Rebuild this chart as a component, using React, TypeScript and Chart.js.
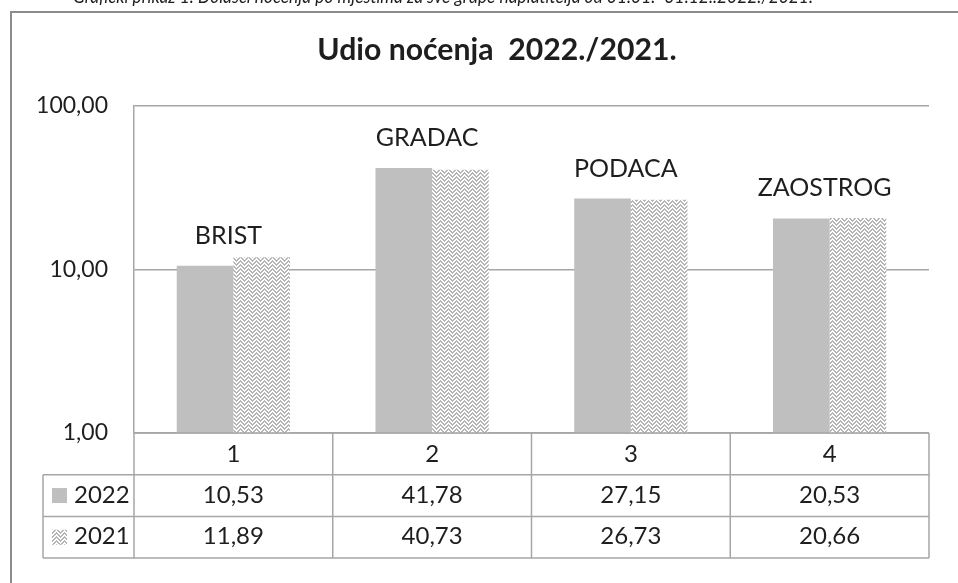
import React, { useEffect, useRef } from "react";
import { Chart, registerables } from "chart.js";

Chart.register(...registerables);

const categories = ["1", "2", "3", "4"];
const placeNames = ["BRIST", "GRADAC", "PODACA", "ZAOSTROG"];
const seriesLabels = ["2022", "2021"];
const values2022 = [10.53, 41.78, 27.15, 20.53];
const values2021 = [11.89, 40.73, 26.73, 20.66];
const yTicks = [1, 10, 100];
const titleText = "Udio noćenja  2022./2021.";
const captionText =
  "Grafički prikaz 1. Dolasci noćenja po mjestima za sve grupe naplatitelja od 01.01.- 31.12..2022./2021.";

const FONT = "Lato, 'Open Sans', sans-serif";
const TEXT = "#1e1e1e";
const LINE = "#a6a6a6";
const GRAY = "#BFBFBF";

const fmt = (v: number) => v.toFixed(2).replace(".", ",");

function makePattern(ctx: CanvasRenderingContext2D): CanvasPattern | string {
  const c = document.createElement("canvas");
  c.width = 8;
  c.height = 8;
  const g = c.getContext("2d");
  if (!g) return "#dddddd";
  g.fillStyle = "#ffffff";
  g.fillRect(0, 0, 8, 8);
  g.fillStyle = "#b4b4b4";
  const zz = [0, 1, 2, 3, 4, 3, 2, 1];
  for (let x = 0; x < 8; x++) {
    for (const k of [0, 4]) {
      const y = (zz[x] + k) % 8;
      g.fillRect(x, y, 1, 1);
      g.fillRect(x, (y + 1) % 8, 1, 1);
    }
  }
  return ctx.createPattern(c, "repeat") || "#dddddd";
}

export default function App() {
  const ref = useRef<HTMLCanvasElement | null>(null);

  useEffect(() => {
    const canvas = ref.current;
    if (!canvas) return;
    const ctx0 = canvas.getContext("2d")!;
    const pattern = makePattern(ctx0);

    const decor = {
      id: "decor",
      afterDraw(chart: any) {
        const ctx: CanvasRenderingContext2D = chart.ctx;
        const area = chart.chartArea;
        const xs = chart.scales.x;
        ctx.save();

        // outer frame
        ctx.strokeStyle = "#8c8c8c";
        ctx.lineWidth = 2;
        ctx.beginPath();
        ctx.moveTo(11, 600);
        ctx.lineTo(11, 12);
        ctx.lineTo(980, 12);
        ctx.stroke();

        // caption (cut off at top)
        ctx.fillStyle = TEXT;
        ctx.font = `italic 20px ${FONT}`;
        ctx.textAlign = "left";
        ctx.textBaseline = "alphabetic";
        const cw = ctx.measureText(captionText).width;
        ctx.save();
        ctx.translate(73, 3);
        ctx.scale(740 / cw, 1);
        ctx.fillText(captionText, 0, 0);
        ctx.restore();

        // title
        ctx.font = `bold 28px ${FONT}`;
        const tw = ctx.measureText(titleText).width;
        const ts = (28 * 359) / tw;
        ctx.font = `bold ${ts.toFixed(1)}px ${FONT}`;
        ctx.textAlign = "center";
        ctx.fillText(titleText, 497, 60);

        // place labels above bars
        ctx.font = `25px ${FONT}`;
        const meta0 = chart.getDatasetMeta(0);
        placeNames.forEach((name, i) => {
          const cx = xs.getPixelForValue(i) - 5;
          const top = meta0.data[i].y;
          ctx.fillText(name, cx, top - 22);
        });

        // data table
        const left = area.left;
        const right = area.right;
        const colW = (right - left) / categories.length;
        const rowH = 41.7;
        const t0 = area.bottom;
        const legendLeft = 43;
        ctx.strokeStyle = LINE;
        ctx.lineWidth = 1.5;
        ctx.beginPath();
        ctx.moveTo(left, t0);
        ctx.lineTo(right, t0);
        for (let r = 1; r <= 3; r++) {
          ctx.moveTo(legendLeft, t0 + r * rowH);
          ctx.lineTo(right, t0 + r * rowH);
        }
        for (let c = 0; c <= categories.length; c++) {
          ctx.moveTo(left + c * colW, t0);
          ctx.lineTo(left + c * colW, t0 + 3 * rowH);
        }
        ctx.moveTo(legendLeft, t0 + rowH);
        ctx.lineTo(legendLeft, t0 + 3 * rowH);
        ctx.stroke();

        ctx.fillStyle = TEXT;
        ctx.font = `24px ${FONT}`;
        ctx.textAlign = "center";
        categories.forEach((c, i) => {
          ctx.fillText(c, left + (i + 0.5) * colW, t0 + 29);
        });
        const rows = [values2022, values2021];
        rows.forEach((vals, r) => {
          const base = t0 + (r + 1) * rowH + 28;
          vals.forEach((v, i) => {
            ctx.fillText(fmt(v), left + (i + 0.5) * colW, base);
          });
        });
        // legend keys
        ctx.textAlign = "left";
        seriesLabels.forEach((lab, r) => {
          const mid = t0 + (r + 1.5) * rowH;
          ctx.fillStyle = r === 0 ? GRAY : (pattern as any);
          ctx.fillRect(52, mid - 7.5, 15, 15);
          ctx.fillStyle = TEXT;
          ctx.fillText(lab, 74, t0 + (r + 1) * rowH + 28);
        });

        ctx.restore();
      },
    };

    const chart = new Chart(canvas, {
      type: "bar",
      data: {
        labels: categories,
        datasets: [
          {
            label: seriesLabels[0],
            data: values2022,
            backgroundColor: GRAY,
            borderWidth: 0,
            categoryPercentage: 0.57,
            barPercentage: 1,
          },
          {
            label: seriesLabels[1],
            data: values2021,
            backgroundColor: pattern as any,
            borderWidth: 0,
            categoryPercentage: 0.57,
            barPercentage: 1,
          },
        ],
      },
      options: {
        responsive: false,
        animation: false,
        devicePixelRatio: 1,
        layout: { padding: { left: 0, top: 106, right: 29, bottom: 150 } },
        plugins: {
          legend: { display: false },
          tooltip: { enabled: false },
          title: { display: false },
        },
        scales: {
          x: { display: false },
          y: {
            type: "logarithmic",
            min: 1,
            max: 100,
            afterBuildTicks: (s: any) => {
              s.ticks = yTicks.map((v) => ({ value: v }));
            },
            afterFit: (s: any) => {
              s.width = 134;
            },
            ticks: {
              callback: (v: any) => fmt(Number(v)),
              font: { family: FONT, size: 23 },
              color: TEXT,
              padding: 26,
              autoSkip: false,
            },
            grid: { color: LINE, lineWidth: 1.5, drawTicks: false },
            border: { display: true, color: LINE, width: 1.5 },
          },
        },
      },
      plugins: [decor],
    });

    let alive = true;
    if ((document as any).fonts && (document as any).fonts.load) {
      Promise.all([
        (document as any).fonts.load(`24px Lato`),
        (document as any).fonts.load(`bold 28px Lato`),
        (document as any).fonts.load(`italic 20px Lato`),
      ])
        .then(() => {
          if (alive) chart.update();
        })
        .catch(() => {});
    }

    return () => {
      alive = false;
      chart.destroy();
    };
  }, []);

  return (
    <div
      style={{
        position: "fixed",
        left: 0,
        top: 0,
        width: 958,
        height: 583,
        background: "#ffffff",
        overflow: "hidden",
      }}
    >
      <canvas ref={ref} width={958} height={583} style={{ display: "block" }} />
    </div>
  );
}
